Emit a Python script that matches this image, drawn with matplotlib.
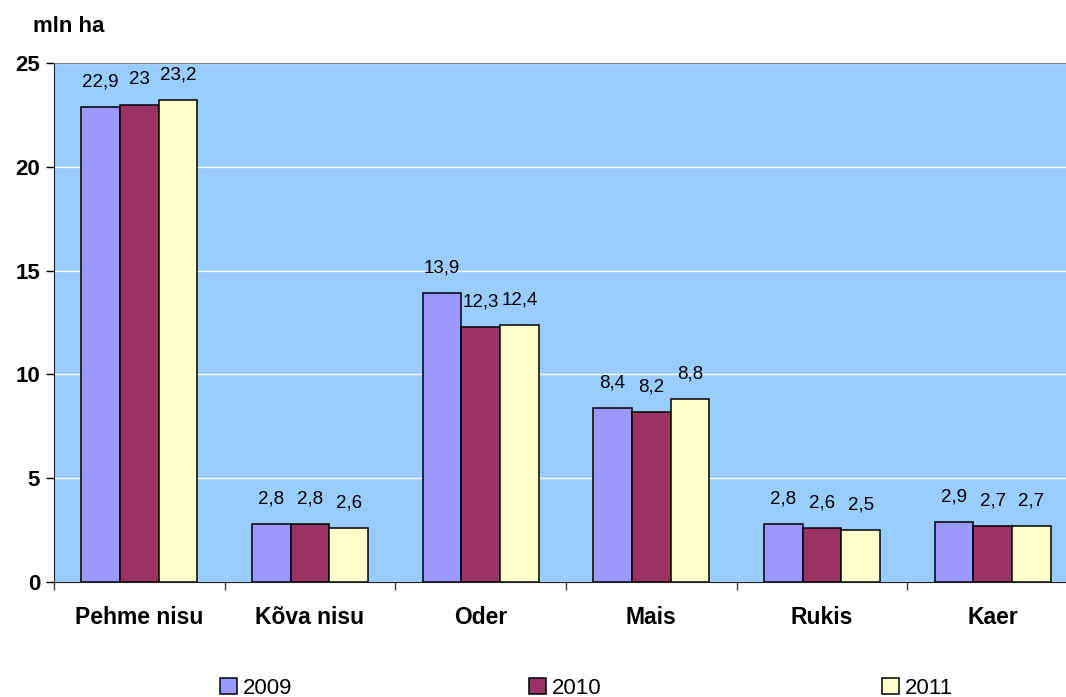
import matplotlib
matplotlib.use("Agg")
import matplotlib.pyplot as plt
from matplotlib.patches import Patch
import numpy as np

plt.rcParams['font.family'] = ['Liberation Sans', 'DejaVu Sans']

categories = ["Pehme nisu", "Kõva nisu", "Oder", "Mais", "Rukis", "Kaer"]
years = ["2009", "2010", "2011"]
v2009 = [22.9, 2.8, 13.9, 8.4, 2.8, 2.9]
v2010 = [23.0, 2.8, 12.3, 8.2, 2.6, 2.7]
v2011 = [23.2, 2.6, 12.4, 8.8, 2.5, 2.7]
series = [v2009, v2010, v2011]
colors = ["#9999FF", "#993366", "#FFFFCC"]
yticks = [0, 5, 10, 15, 20, 25]

def fmt(v):
    s = ("%.1f" % v).rstrip('0').rstrip('.')
    return s.replace('.', ',')

W, H = 1066, 697
fig = plt.figure(figsize=(W/100, H/100), dpi=100)
left, right, top, bottom = 54, 1078, 63, 582
ax = fig.add_axes([left/W, 1-bottom/H, (right-left)/W, (bottom-top)/H])
ax.set_facecolor("#99CCFF")

x = np.arange(len(categories))
bw = 0.227
for i, (vals, c, yr) in enumerate(zip(series, colors, years)):
    xs = x + (i-1)*bw
    ax.bar(xs, vals, width=bw, color=c, edgecolor='black', linewidth=1.1, zorder=3)
    for xi, v in zip(xs, vals):
        ax.annotate(fmt(v), (xi, v), xytext=(0, 18), textcoords='offset points',
                    ha='center', va='center', fontsize=13.5, color='black')

ax.set_xlim(-0.5, len(categories)-0.5)
ax.set_ylim(0, 25)
ax.set_yticks(yticks)
ax.set_yticklabels([str(t) for t in yticks], fontsize=16, fontweight='bold')
ax.yaxis.grid(True, color='white', linewidth=1, zorder=0)
ax.set_axisbelow(True)
ax.tick_params(axis='y', length=6, width=1, direction='out', pad=4)

ax.set_xticks(np.arange(-0.5, len(categories)+0.5, 1))
ax.set_xticklabels([])
ax.set_xticks(x, minor=True)
ax.set_xticklabels(categories, minor=True, fontsize=16.5, fontweight='bold')
ax.tick_params(axis='x', which='minor', length=0, pad=17)
ax.tick_params(axis='x', which='major', length=6, width=1, color='#404040')

ax.spines['top'].set_color('#808080')
ax.spines['right'].set_visible(False)
ax.spines['left'].set_color('#202020')
ax.spines['bottom'].set_color('#202020')

fig.text(33/W, 1-27/H, "mln ha", fontsize=16, fontweight='bold', va='center', ha='left')

legx = [220, 529, 882]
for xx, yr, c in zip(legx, years, colors):
    fig.legend(handles=[Patch(facecolor=c, edgecolor='black', linewidth=1.1)], labels=[yr],
               loc='center left', bbox_to_anchor=(xx/W, 1-688/H), frameon=False,
               fontsize=16, handlelength=0.75, handleheight=0.75, handletextpad=0.3,
               borderaxespad=0, borderpad=0)

fig.savefig("out.png", dpi=100)
